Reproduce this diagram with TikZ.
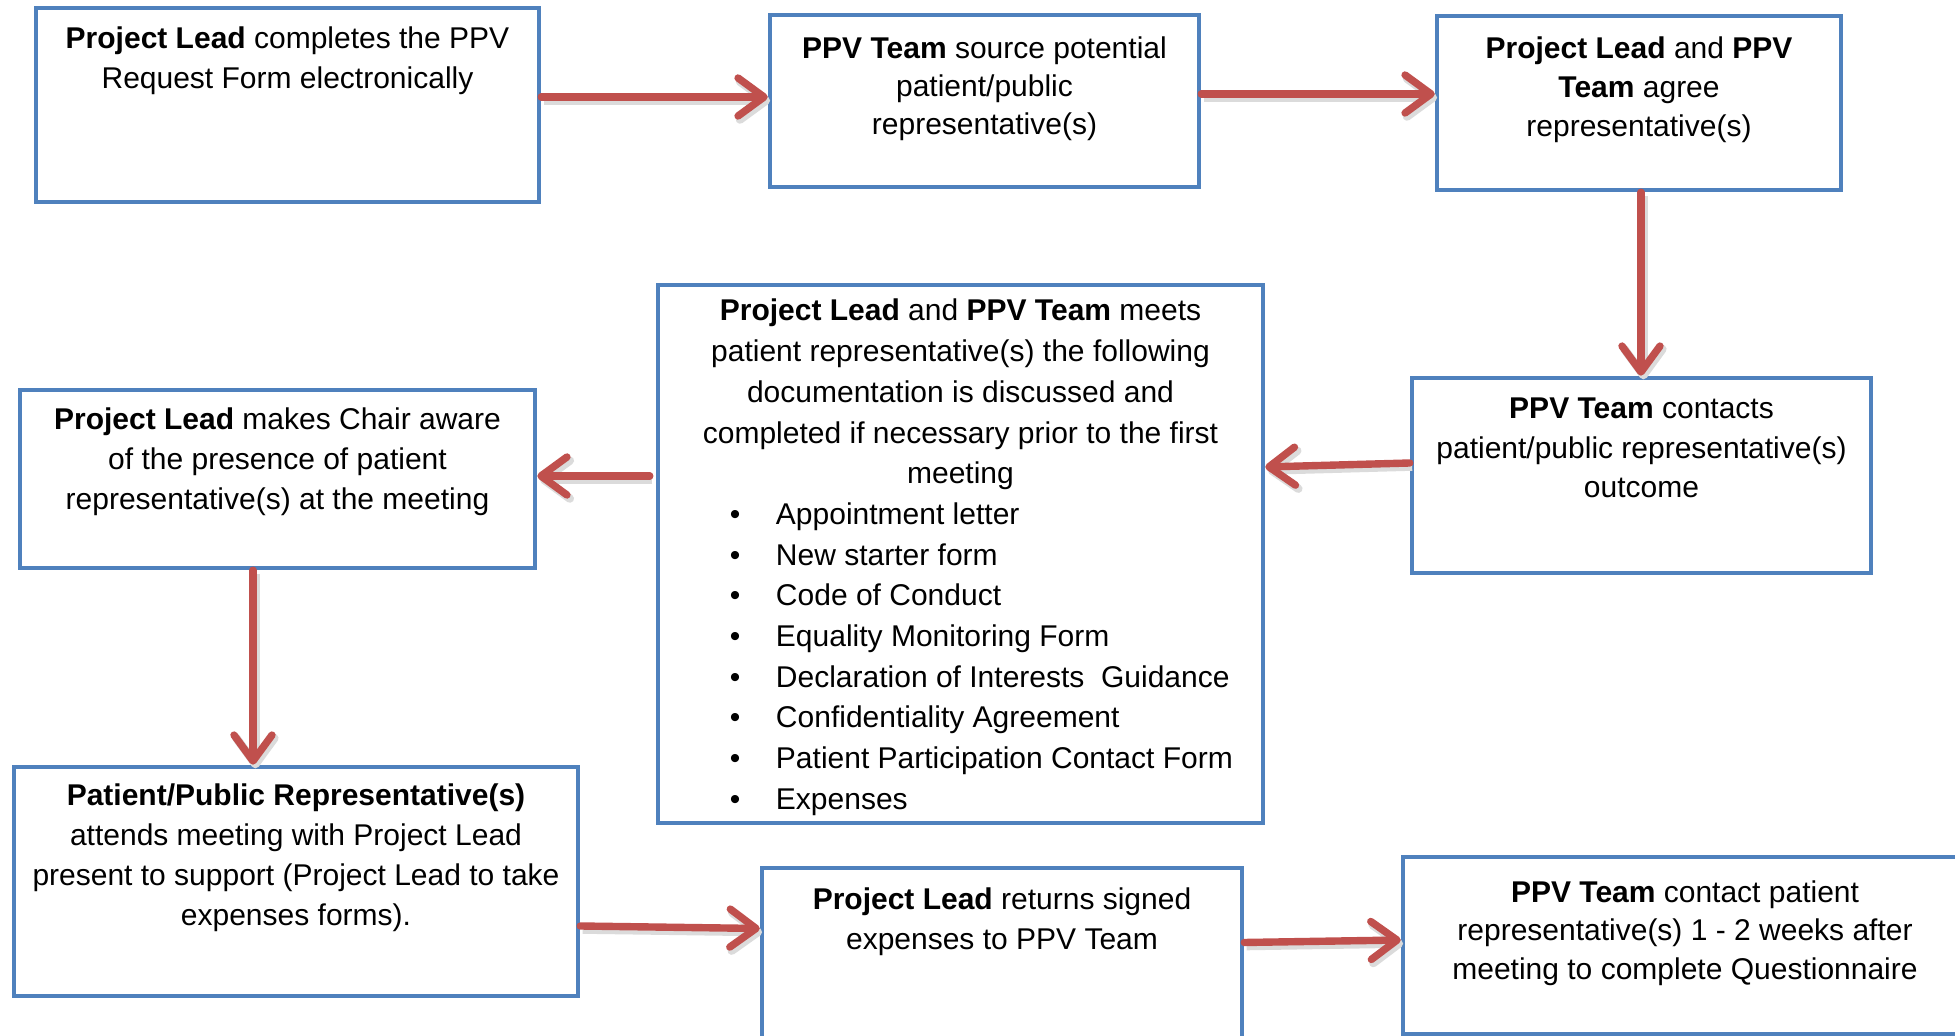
\documentclass[tikz,border=0pt]{standalone}
\usepackage{fontspec}
\setmainfont{Liberation Sans}
\usetikzlibrary{arrows.meta}
\definecolor{boxblue}{HTML}{4F81BD}
\definecolor{arrred}{HTML}{C0504D}
\tikzset{
  box/.style={draw=boxblue, line width=2.25pt, inner sep=0pt, fill=white},
  arr/.style={draw=arrred, line width=3.7pt, line cap=round,
    preaction={draw=black!14, line width=4.2pt, transform canvas={shift={(1.2pt,-1.8pt)}}},
    -{Straight Barb[length=13pt,width=19pt,round]}},
}
% #1 width pt, #2 height pt, #3 first-baseline pt, #4 baselineskip pt, #5 text
\newcommand{\bxtext}[5]{\parbox[c][#2pt][t]{#1pt}{\fontsize{15}{#4}\selectfont\centering\rule{0pt}{#3pt}#5\par}}
\newcommand{\bul}[1]{\hspace*{38.5pt}\makebox[0pt]{•}\hspace*{20.5pt}#1}
\begin{document}
\begin{tikzpicture}[x=0.5pt,y=-0.5pt]
\useasboundingbox (0,0) rectangle (1955,1036);
\clip (0,0) rectangle (1955,1036);

\node[box] (b1) at (287.5,105) {\bxtext{251.5}{97}{20.5}{20}{\textbf{Project Lead} completes the PPV\\Request Form electronically}};
\node[box] (b2) at (984.5,101) {\bxtext{214.5}{86}{21.9}{19}{\textbf{PPV Team} source potential\\patient/public\\representative(s)}};
\node[box] (b3) at (1639,103) {\bxtext{202}{87}{21.4}{19.5}{\textbf{Project Lead} and \textbf{PPV}\\\textbf{Team} agree\\representative(s)}};
\node[box] (b4) at (1641.5,475.5) {\bxtext{229.5}{97.5}{20.5}{19.6}{\textbf{PPV Team} contacts\\patient/public representative(s)\\outcome}};
\node[box] (b5) at (960.5,554) {\parbox[c][269pt][t]{302.5pt}{\fontsize{15}{20.35}\selectfont
  {\centering\rule{0pt}{18pt}\textbf{Project Lead} and \textbf{PPV Team} meets\\patient representative(s) the following\\documentation is discussed and\\completed if necessary prior to the first\\meeting\par}
  {\raggedright
  \bul{Appointment letter}\\
  \bul{New starter form}\\
  \bul{Code of Conduct}\\
  \bul{Equality Monitoring Form}\\
  \bul{Declaration of Interests\ \ Guidance}\\
  \bul{Confidentiality Agreement}\\
  \bul{Patient Participation Contact Form}\\
  \bul{Expenses}\par}}};
\node[box] (b6) at (277.5,479) {\bxtext{257.5}{89}{20}{19.9}{\textbf{Project Lead} makes Chair aware\\of the presence of patient\\representative(s) at the meeting}};
\node[box] (b7) at (296,881.5) {\bxtext{282}{114.5}{19.5}{19.9}{\textbf{Patient/Public Representative(s)}\\attends meeting with Project Lead\\present to support (Project Lead to take\\expenses forms).}};
\node[box] (b8) at (1002,959) {\bxtext{240}{91}{20.5}{20.5}{\textbf{Project Lead} returns signed\\expenses to PPV Team}};
\node[box] (b9) at (1685,945.5) {\bxtext{282}{88.5}{22.5}{19.3}{\textbf{PPV Team} contact patient\\representative(s) 1 - 2 weeks after\\meeting to complete Questionnaire}};

\draw[arr] ([yshift=4pt]b1.east) -- ([yshift=2pt]b2.west);
\draw[arr] ([yshift=3.5pt]b2.east) -- ([yshift=4.5pt]b3.west);
\draw[arr] ([xshift=1pt]b3.south) -- ([xshift=-0.25pt]b4.north);
\draw[arr] ([yshift=6.25pt]b4.west) -- ([yshift=43.5pt]b5.east);
\draw[arr] ([xshift=-3pt,yshift=39pt]b5.west) -- ([yshift=1.5pt]b6.east);
\draw[arr] ([xshift=-12.25pt]b6.south) -- ([xshift=-21.5pt]b7.north);
\draw[arr] ([yshift=-22.25pt]b7.east) -- ([yshift=15.25pt]b8.west);
\draw[arr] ([yshift=8.25pt]b8.east) -- ([yshift=2.75pt]b9.west);
\end{tikzpicture}
\end{document}
